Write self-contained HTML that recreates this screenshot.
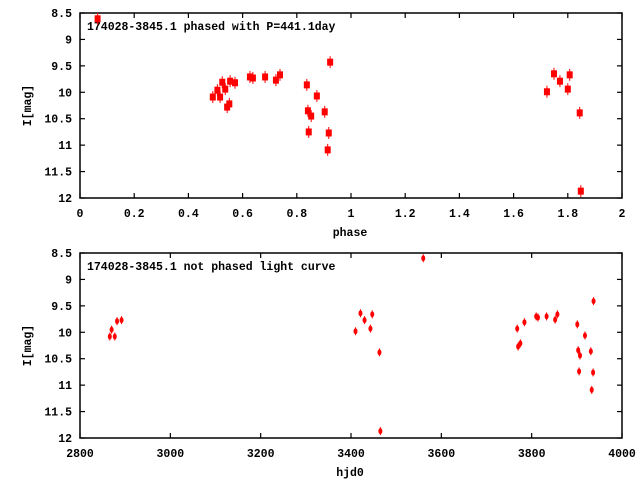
<!DOCTYPE html>
<html><head><meta charset="utf-8"><style>
body{margin:0;background:#fff}
svg text{font-family:"Liberation Mono",monospace;font-weight:bold;font-size:11.5px;fill:#000}
</style></head><body>
<svg id="c" width="640" height="480" xmlns="http://www.w3.org/2000/svg"></svg>
<script>
const phaseVals=[0.065,0.49,0.507,0.517,0.525,0.536,0.543,0.551,0.554,0.572,0.627,0.638,0.683,0.723,0.738,0.837,0.841,0.844,0.853,0.874,0.903,0.918,0.914,0.923,1.723,1.749,1.771,1.80,1.807,1.844,1.848];
const phaseMags=[8.61,10.09,9.96,10.09,9.81,9.94,10.28,10.22,9.79,9.82,9.71,9.73,9.71,9.77,9.67,9.86,10.35,10.75,10.45,10.07,10.37,10.77,11.09,9.43,9.99,9.65,9.79,9.94,9.67,10.39,11.87];
const hjdVals=[2866,2870,2877,2882,2892,3410,3421,3430,3443,3447,3463,3465,3560,3768,3770,3775,3784,3810,3814,3833,3852,3857,3901,3903,3905,3907,3918,3931,3933,3936,3937];
const hjdMags=[10.08,9.95,10.08,9.79,9.77,9.98,9.64,9.77,9.93,9.66,10.38,11.87,8.60,9.93,10.27,10.21,9.81,9.70,9.72,9.70,9.76,9.66,9.85,10.34,10.74,10.44,10.06,10.36,11.09,10.76,9.41];
const phaseTicks=[0,0.2,0.4,0.6,0.8,1,1.2,1.4,1.6,1.8,2];
const hjdTicks=[2800,3000,3200,3400,3600,3800,4000];
const magTicks=[8.5,9,9.5,10,10.5,11,11.5,12];
const NS="http://www.w3.org/2000/svg";
const svg=document.getElementById('c');
function mk(t,a,p){const e=document.createElementNS(NS,t);for(const k in a)e.setAttribute(k,a[k]);(p||svg).appendChild(e);return e;}
function panel(o){
  const g=mk('g',{});
  
  
  const L=80,R=622,T=o.top,B=o.top+185;
  const sx=v=>L+(v-o.xmin)/(o.xmax-o.xmin)*(R-L);
  const sy=v=>T+(v-8.5)/3.5*(B-T);
  const fr=mk('rect',{x:L,y:T,width:R-L,height:B-T,fill:'none',stroke:'#000','stroke-width':1.5},g);
  
  o.xt.forEach(v=>{const x=sx(v);
    mk('line',{x1:x,y1:B,x2:x,y2:B-5,stroke:'#000','stroke-width':1.2},g);
    mk('line',{x1:x,y1:T,x2:x,y2:T+5,stroke:'#000','stroke-width':1.2},g);
    const t=mk('text',{x:x,y:B+19,'text-anchor':'middle'},g);t.textContent=String(v);
    });
  magTicks.forEach(v=>{const y=sy(v);
    mk('line',{x1:L,y1:y,x2:L+5,y2:y,stroke:'#000','stroke-width':1.2},g);
    mk('line',{x1:R,y1:y,x2:R-5,y2:y,stroke:'#000','stroke-width':1.2},g);
    const t=mk('text',{x:72,y:y+4,'text-anchor':'end'},g);t.textContent=String(v);
    });
  const xl=mk('text',{x:350,y:B+38,'text-anchor':'middle'},g);xl.textContent=o.xlabel;
  
  const cy=(T+B)/2;
  const yl=mk('text',{x:31,y:cy,'text-anchor':'middle',transform:`rotate(-90 31 ${cy})`},g);yl.textContent='I[mag]';
  
  const tt=mk('text',{x:87,y:T+17},g);tt.textContent=o.title;
  
  o.xs.forEach((v,i)=>{const x=sx(v),y=sy(o.ys[i]);
    let m;
    if(o.big){mk('line',{x1:x,y1:y-6,x2:x,y2:y+6,stroke:'#f00','stroke-width':1},g);
      m=mk('rect',{x:x-3,y:y-3.5,width:6,height:7,fill:'#f00'},g);}
    else{mk('line',{x1:x,y1:y-4,x2:x,y2:y+4,stroke:'#f00','stroke-width':1},g);
      m=mk('ellipse',{cx:x,cy:y,rx:2,ry:3,fill:'#f00'},g);}
    });
}
panel({name:'phased-panel',top:13,xmin:0,xmax:2,xt:phaseTicks,xs:phaseVals,ys:phaseMags,xlabel:'phase',title:'174028-3845.1 phased with P=441.1day',big:true});
panel({name:'unphased-panel',top:253,xmin:2800,xmax:4000,xt:hjdTicks,xs:hjdVals,ys:hjdMags,xlabel:'hjd0',title:'174028-3845.1 not phased light curve',big:false});
</script>
</body></html>
